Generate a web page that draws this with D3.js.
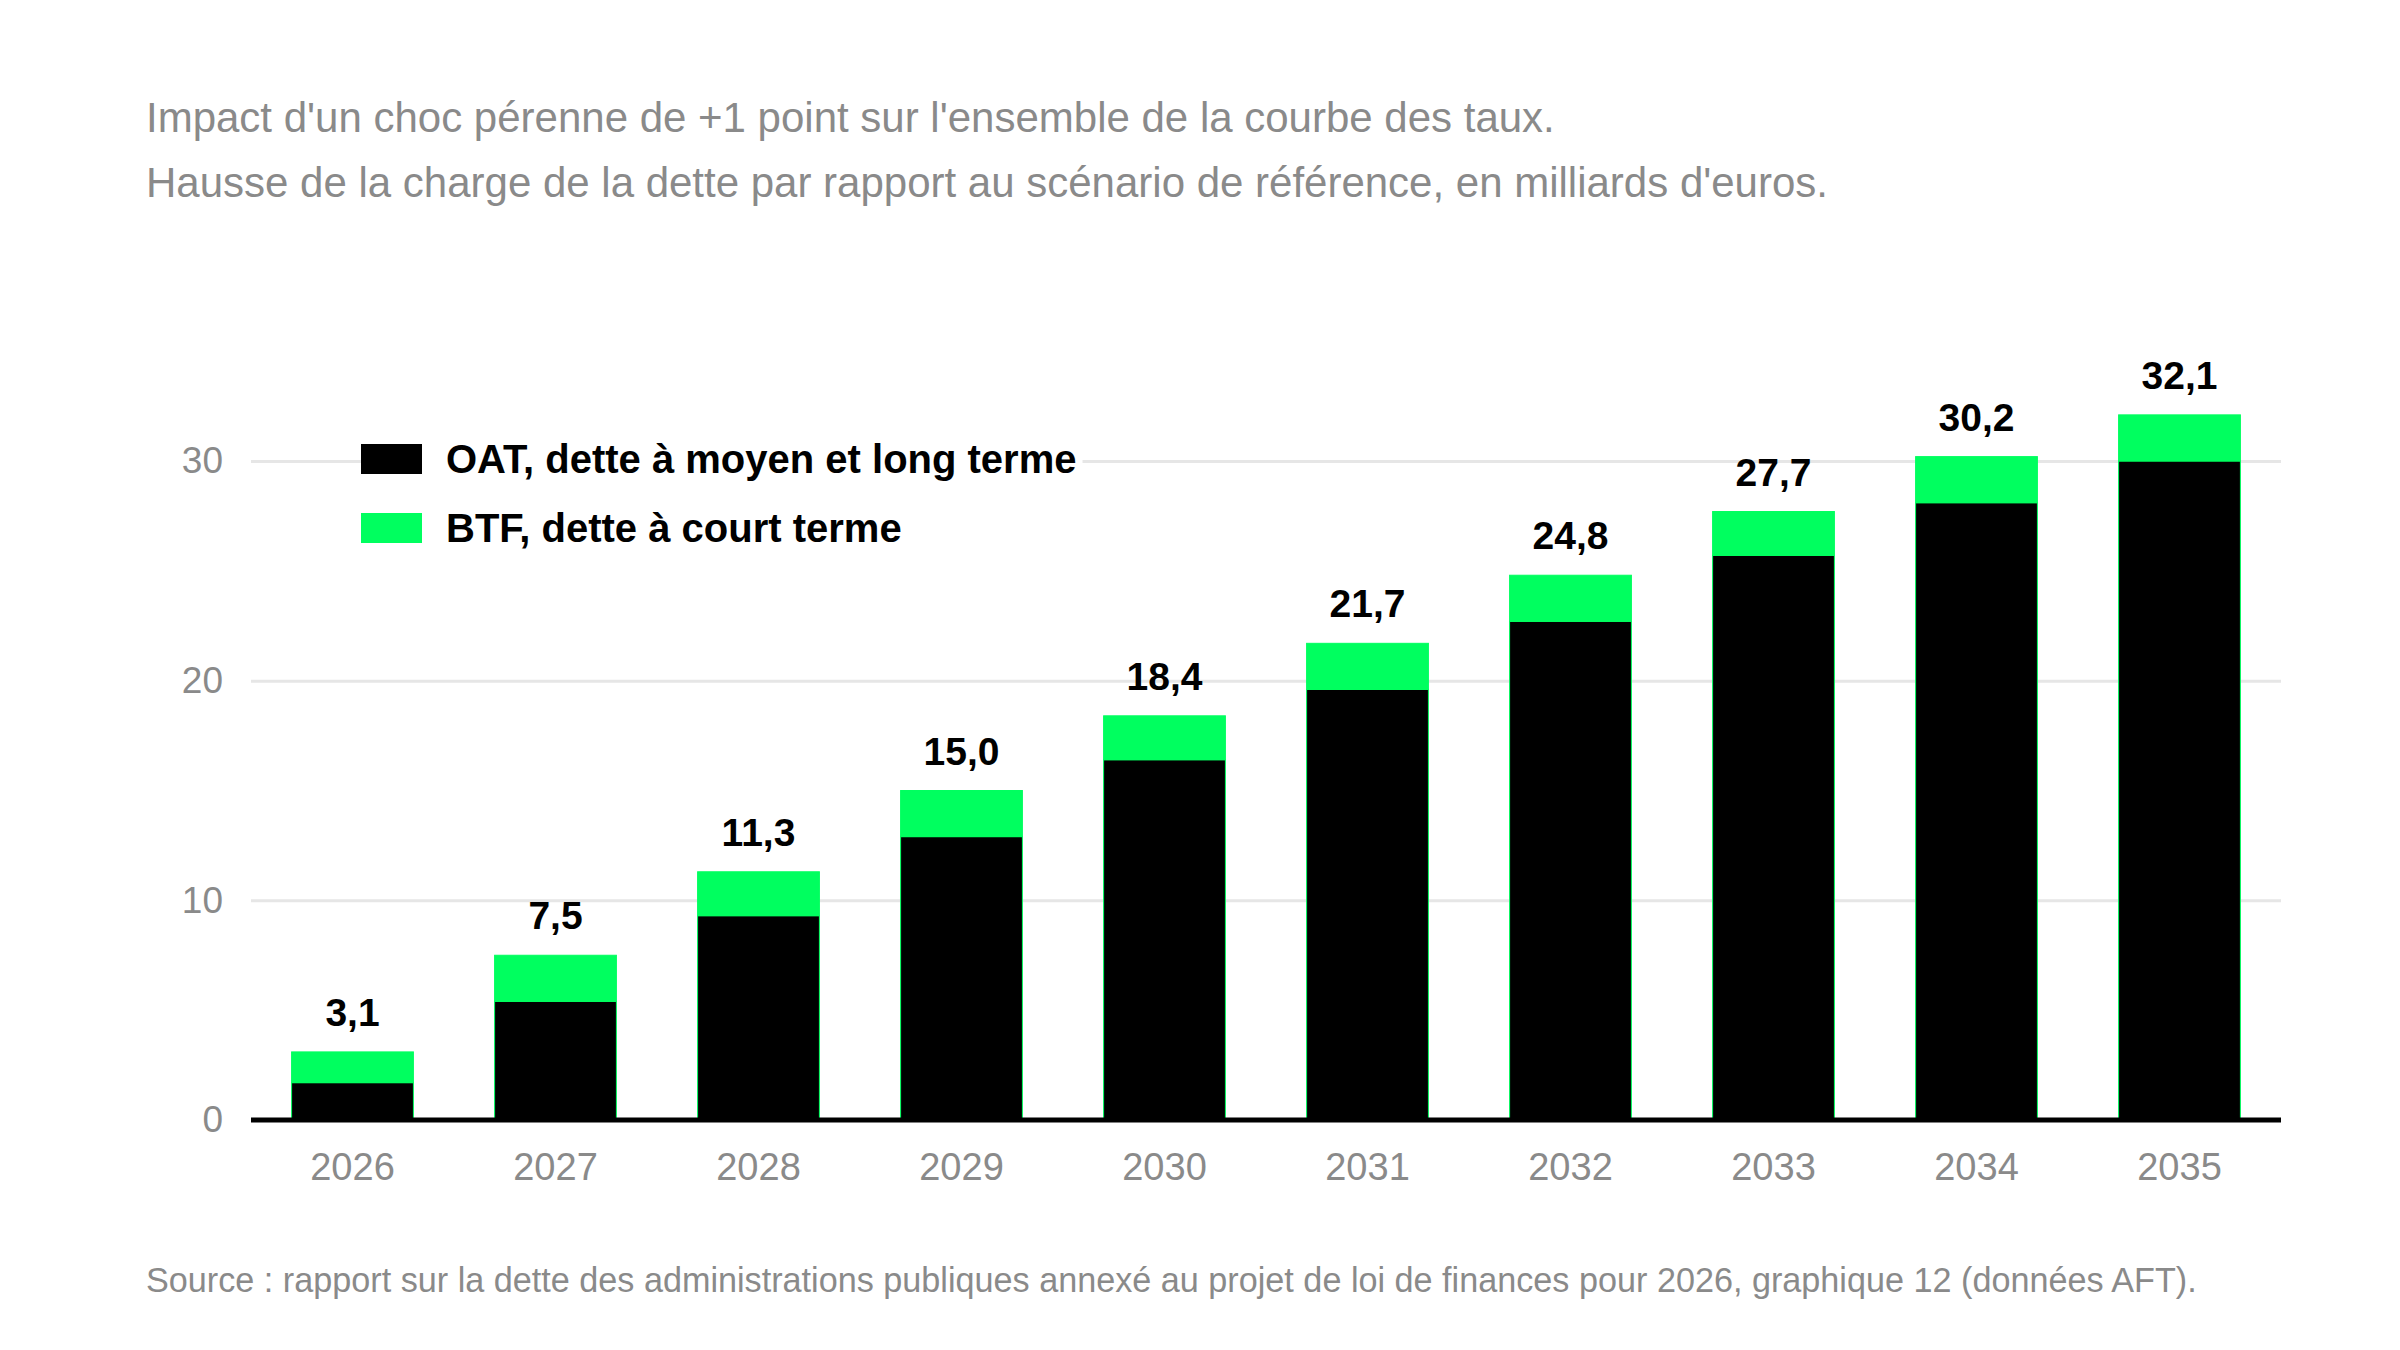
<!DOCTYPE html>
<html>
<head>
<meta charset="utf-8">
<script src="https://cdn.jsdelivr.net/npm/d3@7"></script>
<style>
  html, body { margin: 0; padding: 0; background: #fff; }
  text { font-family: "Liberation Sans", Arial, Helvetica, sans-serif; }
</style>
</head>
<body>
<div id="container"></div>
<script>
const years = ["2026", "2027", "2028", "2029", "2030", "2031", "2032", "2033", "2034", "2035"];
const oat = [1.7, 5.4, 9.3, 12.9, 16.4, 19.6, 22.7, 25.7, 28.1, 30.0];
const btf = [1.4, 2.1, 2.0, 2.1, 2.0, 2.1, 2.1, 2.0, 2.1, 2.1];
const totals = ["3,1", "7,5", "11,3", "15,0", "18,4", "21,7", "24,8", "27,7", "30,2", "32,1"];
const yTicks = [0, 10, 20, 30];
const seriesNames = ["OAT, dette à moyen et long terme", "BTF, dette à court terme"];
const titleLines = [
  "Impact d'un choc pérenne de +1 point sur l'ensemble de la courbe des taux.",
  "Hausse de la charge de la dette par rapport au scénario de référence, en milliards d'euros."
];
const sourceText = "Source : rapport sur la dette des administrations publiques annexé au projet de loi de finances pour 2026, graphique 12 (données AFT).";

const width = 2400, height = 1350;
const margin = { left: 251, right: 119, top: 461, bottom: 230 };
const gray = "#8a8a8a";
const green = "#00ff5f";

const svg = d3.select("#container")
  .append("svg")
  .attr("width", width)
  .attr("height", height);

// title
svg.selectAll("text.title")
  .data(titleLines)
  .enter()
  .append("text")
  .attr("class", "title")
  .attr("x", 146)
  .attr("y", (d, i) => 132 + i * 65)
  .attr("fill", gray)
  .attr("font-size", 42)
  .text(d => d);

const x = d3.scaleBand()
  .domain(years)
  .range([margin.left, width - margin.right])
  .paddingInner(0.4)
  .paddingOuter(0.2);

const y = d3.scaleLinear()
  .domain([0, 30])
  .range([height - margin.bottom, margin.top]);

// grid + y labels
const yAxis = d3.axisLeft(y)
  .tickValues(yTicks)
  .tickSize(-(width - margin.left - margin.right))
  .tickPadding(28)
  .tickFormat(d => d);

const gy = svg.append("g")
  .attr("transform", `translate(${margin.left},0)`)
  .call(yAxis);
gy.select(".domain").remove();
gy.selectAll(".tick line")
  .attr("stroke", "#e6e6e6")
  .attr("stroke-width", 3);
gy.selectAll(".tick text")
  .attr("fill", gray)
  .attr("font-size", 37)
  .attr("font-family", "'Liberation Sans', Arial, sans-serif");

// stacked bars
const rows = years.map((yr, i) => ({ year: yr, oat: oat[i], btf: btf[i] }));
const stack = d3.stack().keys(["oat", "btf"])(rows);
const colors = { oat: "#000", btf: green };

svg.append("g")
  .selectAll("g")
  .data(stack)
  .enter()
  .append("g")
  .attr("fill", d => colors[d.key])
  .selectAll("rect")
  .data(d => d)
  .enter()
  .append("rect")
  .attr("x", d => x(d.data.year))
  .attr("width", x.bandwidth())
  .attr("y", d => y(d[1]))
  .attr("height", d => y(d[0]) - y(d[1]))
  .attr("stroke", green)
  .attr("stroke-width", 1);

// baseline
svg.append("line")
  .attr("x1", margin.left)
  .attr("x2", width - margin.right)
  .attr("y1", y(0))
  .attr("y2", y(0))
  .attr("stroke", "#000")
  .attr("stroke-width", 5);

// total labels
svg.append("g")
  .selectAll("text")
  .data(rows)
  .enter()
  .append("text")
  .attr("x", d => x(d.year) + x.bandwidth() / 2)
  .attr("y", d => y(d.oat + d.btf) - 26)
  .attr("text-anchor", "middle")
  .attr("font-size", 39)
  .attr("font-weight", "bold")
  .attr("fill", "#000")
  .text((d, i) => totals[i]);

// x labels
const xAxis = d3.axisBottom(x).tickSize(0).tickPadding(33);
const gx = svg.append("g")
  .attr("transform", `translate(0,${y(0)})`)
  .call(xAxis);
gx.select(".domain").remove();
gx.selectAll(".tick text")
  .attr("fill", gray)
  .attr("font-size", 38)
  .attr("font-family", "'Liberation Sans', Arial, sans-serif");

// legend
const legend = svg.append("g").attr("transform", "translate(361,459)");
const lg = legend.selectAll("g")
  .data(seriesNames)
  .enter()
  .append("g")
  .attr("transform", (d, i) => `translate(0,${i * 69})`);
lg.append("rect").attr("class", "bg").attr("fill", "#fff");
lg.append("rect")
  .attr("x", 0)
  .attr("y", -15)
  .attr("width", 61)
  .attr("height", 30)
  .attr("fill", (d, i) => i === 0 ? "#000" : green);
lg.append("text")
  .attr("x", 85)
  .attr("y", 0)
  .attr("dy", "0.35em")
  .attr("font-size", 40)
  .attr("font-weight", "bold")
  .attr("fill", "#000")
  .text(d => d);
lg.each(function () {
  const t = d3.select(this).select("text").node().getBBox();
  d3.select(this).select("rect.bg")
    .attr("x", 0).attr("y", t.y)
    .attr("width", t.x + t.width + 6).attr("height", t.height);
});

// source
svg.append("text")
  .attr("x", 146)
  .attr("y", 1292)
  .attr("fill", gray)
  .attr("font-size", 34.2)
  .text(sourceText);
</script>
</body>
</html>
